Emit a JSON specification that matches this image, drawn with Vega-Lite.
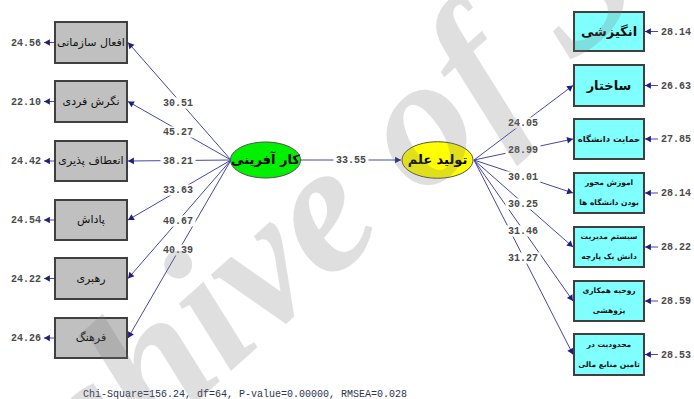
{
  "$schema": "https://vega.github.io/schema/vega-lite/v6.json",
  "width": 694,
  "height": 399,
  "autosize": {"type": "none"},
  "padding": 0,
  "background": "white",
  "config": {"view": {"stroke": null}},
  "datasets": {
    "edges": [
      {"x": 231, "y": 160, "xe": 128, "ye": 42.5},
      {"x": 231, "y": 160, "xe": 128, "ye": 101.5},
      {"x": 231, "y": 160, "xe": 128, "ye": 161},
      {"x": 231, "y": 160, "xe": 128, "ye": 220},
      {"x": 231, "y": 160, "xe": 128, "ye": 278.5},
      {"x": 231, "y": 160, "xe": 128, "ye": 338},
      {"x": 300, "y": 160, "xe": 401, "ye": 160},
      {"x": 474, "y": 160, "xe": 573, "ye": 85.5},
      {"x": 474, "y": 160, "xe": 573, "ye": 139},
      {"x": 474, "y": 160, "xe": 573, "ye": 193},
      {"x": 474, "y": 160, "xe": 573, "ye": 247},
      {"x": 474, "y": 160, "xe": 573, "ye": 301},
      {"x": 474, "y": 160, "xe": 573, "ye": 354.5},
      {"x": 55, "y": 42.5, "xe": 44, "ye": 42.5},
      {"x": 55, "y": 101.5, "xe": 44, "ye": 101.5},
      {"x": 55, "y": 161, "xe": 44, "ye": 161},
      {"x": 55, "y": 220, "xe": 44, "ye": 220},
      {"x": 55, "y": 278.5, "xe": 44, "ye": 278.5},
      {"x": 55, "y": 338, "xe": 44, "ye": 338},
      {"x": 658, "y": 31.5, "xe": 645, "ye": 31.5},
      {"x": 658, "y": 85.5, "xe": 645, "ye": 85.5},
      {"x": 658, "y": 139, "xe": 645, "ye": 139},
      {"x": 658, "y": 193, "xe": 645, "ye": 193},
      {"x": 658, "y": 247, "xe": 645, "ye": 247},
      {"x": 658, "y": 301, "xe": 645, "ye": 301},
      {"x": 658, "y": 354.5, "xe": 645, "ye": 354.5}
    ],
    "loadings": [
      {"v": 30.51, "x": 178, "y": 103},
      {"v": 45.27, "x": 178, "y": 132},
      {"v": 38.21, "x": 178, "y": 161},
      {"v": 33.63, "x": 178, "y": 190},
      {"v": 40.67, "x": 178, "y": 221},
      {"v": 40.39, "x": 178, "y": 250},
      {"v": 33.55, "x": 351, "y": 160},
      {"v": 24.05, "x": 523, "y": 123},
      {"v": 28.99, "x": 523, "y": 150},
      {"v": 30.01, "x": 523, "y": 177},
      {"v": 30.25, "x": 523, "y": 204},
      {"v": 31.46, "x": 523, "y": 231},
      {"v": 31.27, "x": 523, "y": 258}
    ],
    "boxes": [
      {"label": "افعال سازمانی", "side": "L", "x": 55, "xe": 127, "y": 22, "ye": 63},
      {"label": "نگرش فردی", "side": "L", "x": 55, "xe": 127, "y": 81, "ye": 122},
      {"label": "انعطاف پذیری", "side": "L", "x": 55, "xe": 127, "y": 141, "ye": 181},
      {"label": "پاداش", "side": "L", "x": 55, "xe": 127, "y": 200, "ye": 240},
      {"label": "رهبری", "side": "L", "x": 55, "xe": 127, "y": 258, "ye": 299},
      {"label": "فرهنگ", "side": "L", "x": 55, "xe": 127, "y": 318, "ye": 358},
      {"label": "انگیزشی", "side": "R", "x": 574, "xe": 644, "y": 12, "ye": 51},
      {"label": "ساختار", "side": "R", "x": 574, "xe": 644, "y": 65, "ye": 106},
      {"label": "حمایت دانشگاه", "side": "R", "x": 574, "xe": 644, "y": 119, "ye": 159},
      {"label": "اموزش محور|بودن دانشگاه ها", "side": "R", "x": 574, "xe": 644, "y": 173, "ye": 213},
      {"label": "سیستم مدیریت|دانش یک پارچه", "side": "R", "x": 574, "xe": 644, "y": 227, "ye": 267},
      {"label": "روحیه همکاری|پژوهشی", "side": "R", "x": 574, "xe": 644, "y": 281, "ye": 321},
      {"label": "محدودیت در|تامین منابع مالی", "side": "R", "x": 574, "xe": 644, "y": 334, "ye": 375}
    ],
    "latents": [
      {"label": "کار آفرینی", "kind": "exo", "x": 265.5, "y": 160},
      {"label": "تولید علم", "kind": "endo", "x": 437.5, "y": 160}
    ],
    "errors": [
      {"v": 24.56, "side": "L", "x": 41, "y": 42.5},
      {"v": 22.10, "side": "L", "x": 41, "y": 101.5},
      {"v": 24.42, "side": "L", "x": 41, "y": 161},
      {"v": 24.54, "side": "L", "x": 41, "y": 220},
      {"v": 24.22, "side": "L", "x": 41, "y": 278.5},
      {"v": 24.26, "side": "L", "x": 41, "y": 338},
      {"v": 28.14, "side": "R", "x": 661, "y": 31.5},
      {"v": 26.63, "side": "R", "x": 661, "y": 85.5},
      {"v": 27.85, "side": "R", "x": 661, "y": 139},
      {"v": 28.14, "side": "R", "x": 661, "y": 193},
      {"v": 28.22, "side": "R", "x": 661, "y": 247},
      {"v": 28.59, "side": "R", "x": 661, "y": 301},
      {"v": 28.53, "side": "R", "x": 661, "y": 354.5}
    ],
    "notes": [
      {"t": "Chi-Square=156.24, df=64, P-value=0.00000, RMSEA=0.028", "x": 83, "y": 394}
    ],
    "mark": [
      {"t": "Archive of SID", "x": 335, "y": 202}
    ]
  },
  "layer": [
    {
      "data": {"name": "edges"},
      "mark": {"type": "rule", "color": "#4646a8", "strokeWidth": 1},
      "encoding": {
        "x": {"field": "x", "type": "quantitative", "scale": {"domain": [0, 694], "nice": false, "zero": false}, "axis": null},
        "y": {"field": "y", "type": "quantitative", "scale": {"domain": [0, 399], "nice": false, "zero": false, "reverse": true}, "axis": null},
        "x2": {"field": "xe"},
        "y2": {"field": "ye"}
      }
    },
    {
      "data": {"name": "edges"},
      "transform": [
        {"calculate": "atan2(datum.ye - datum.y, datum.xe - datum.x)", "as": "rad"},
        {"calculate": "datum.rad * 180 / PI", "as": "ang"},
        {"calculate": "datum.xe - 3 * cos(datum.rad)", "as": "ax"},
        {"calculate": "datum.ye - 3 * sin(datum.rad)", "as": "ay"}
      ],
      "mark": {"type": "point", "shape": "triangle-right", "filled": true, "size": 45, "color": "#1f1f80", "opacity": 1},
      "encoding": {
        "x": {"field": "ax", "type": "quantitative", "scale": {"domain": [0, 694], "nice": false, "zero": false}, "axis": null},
        "y": {"field": "ay", "type": "quantitative", "scale": {"domain": [0, 399], "nice": false, "zero": false, "reverse": true}, "axis": null},
        "angle": {"field": "ang", "type": "quantitative", "scale": null}
      }
    },
    {
      "data": {"name": "boxes"},
      "transform": [{"filter": "datum.side == 'L'"}],
      "mark": {"type": "rect", "fill": "#c0c0c0", "stroke": "#3f3f3f", "strokeWidth": 2},
      "encoding": {
        "x": {"field": "x", "type": "quantitative", "scale": {"domain": [0, 694], "nice": false, "zero": false}, "axis": null},
        "y": {"field": "y", "type": "quantitative", "scale": {"domain": [0, 399], "nice": false, "zero": false, "reverse": true}, "axis": null},
        "x2": {"field": "xe"},
        "y2": {"field": "ye"}
      }
    },
    {
      "data": {"name": "boxes"},
      "transform": [{"filter": "datum.side == 'R'"}],
      "mark": {"type": "rect", "fill": "#80ffff", "stroke": "#3f3f3f", "strokeWidth": 2},
      "encoding": {
        "x": {"field": "x", "type": "quantitative", "scale": {"domain": [0, 694], "nice": false, "zero": false}, "axis": null},
        "y": {"field": "y", "type": "quantitative", "scale": {"domain": [0, 399], "nice": false, "zero": false, "reverse": true}, "axis": null},
        "x2": {"field": "xe"},
        "y2": {"field": "ye"}
      }
    },
    {
      "data": {"name": "latents"},
      "transform": [{"filter": "datum.kind == 'exo'"}],
      "mark": {"type": "point", "shape": "M-1,0A1,0.514,0,1,0,1,0A1,0.514,0,1,0,-1,0Z", "filled": true, "size": 4900, "fill": "#00f000", "stroke": "#505050", "strokeWidth": 1, "opacity": 1},
      "encoding": {
        "x": {"field": "x", "type": "quantitative", "scale": {"domain": [0, 694], "nice": false, "zero": false}, "axis": null},
        "y": {"field": "y", "type": "quantitative", "scale": {"domain": [0, 399], "nice": false, "zero": false, "reverse": true}, "axis": null}
      }
    },
    {
      "data": {"name": "latents"},
      "transform": [{"filter": "datum.kind == 'endo'"}],
      "mark": {"type": "point", "shape": "M-1,0A1,0.514,0,1,0,1,0A1,0.514,0,1,0,-1,0Z", "filled": true, "size": 5041, "fill": "#ffff00", "stroke": "#505050", "strokeWidth": 1, "opacity": 1},
      "encoding": {
        "x": {"field": "x", "type": "quantitative", "scale": {"domain": [0, 694], "nice": false, "zero": false}, "axis": null},
        "y": {"field": "y", "type": "quantitative", "scale": {"domain": [0, 399], "nice": false, "zero": false, "reverse": true}, "axis": null}
      }
    },
    {
      "data": {"name": "loadings"},
      "mark": {"type": "point", "shape": "M-1,-0.32H1V0.32H-1Z", "filled": true, "size": 1225, "fill": "white", "strokeWidth": 0, "opacity": 1},
      "encoding": {
        "x": {"field": "x", "type": "quantitative", "scale": {"domain": [0, 694], "nice": false, "zero": false}, "axis": null},
        "y": {"field": "y", "type": "quantitative", "scale": {"domain": [0, 399], "nice": false, "zero": false, "reverse": true}, "axis": null}
      }
    },
    {
      "data": {"name": "loadings"},
      "mark": {"type": "text", "font": "Liberation Mono", "fontSize": 10, "fontWeight": "bold", "color": "#4a4a4a", "align": "center", "baseline": "middle"},
      "encoding": {
        "x": {"field": "x", "type": "quantitative", "scale": {"domain": [0, 694], "nice": false, "zero": false}, "axis": null},
        "y": {"field": "y", "type": "quantitative", "scale": {"domain": [0, 399], "nice": false, "zero": false, "reverse": true}, "axis": null},
        "text": {"field": "v", "type": "quantitative", "format": ".2f"}
      }
    },
    {
      "data": {"name": "errors"},
      "transform": [{"filter": "datum.side == 'L'"}],
      "mark": {"type": "text", "font": "Liberation Mono", "fontSize": 10, "fontWeight": "bold", "color": "#4a4a4a", "align": "right", "baseline": "middle"},
      "encoding": {
        "x": {"field": "x", "type": "quantitative", "scale": {"domain": [0, 694], "nice": false, "zero": false}, "axis": null},
        "y": {"field": "y", "type": "quantitative", "scale": {"domain": [0, 399], "nice": false, "zero": false, "reverse": true}, "axis": null},
        "text": {"field": "v", "type": "quantitative", "format": ".2f"}
      }
    },
    {
      "data": {"name": "errors"},
      "transform": [{"filter": "datum.side == 'R'"}],
      "mark": {"type": "text", "font": "Liberation Mono", "fontSize": 10, "fontWeight": "bold", "color": "#4a4a4a", "align": "left", "baseline": "middle"},
      "encoding": {
        "x": {"field": "x", "type": "quantitative", "scale": {"domain": [0, 694], "nice": false, "zero": false}, "axis": null},
        "y": {"field": "y", "type": "quantitative", "scale": {"domain": [0, 399], "nice": false, "zero": false, "reverse": true}, "axis": null},
        "text": {"field": "v", "type": "quantitative", "format": ".2f"}
      }
    },
    {
      "data": {"name": "boxes"},
      "transform": [{"filter": "datum.side == 'L'"}, {"calculate": "(datum.x + datum.xe) / 2", "as": "cx"}, {"calculate": "(datum.y + datum.ye) / 2", "as": "cy"}],
      "mark": {"type": "text", "font": "DejaVu Sans", "fontSize": 11, "color": "#111111", "align": "center", "baseline": "middle"},
      "encoding": {
        "x": {"field": "cx", "type": "quantitative", "scale": {"domain": [0, 694], "nice": false, "zero": false}, "axis": null},
        "y": {"field": "cy", "type": "quantitative", "scale": {"domain": [0, 399], "nice": false, "zero": false, "reverse": true}, "axis": null},
        "text": {"field": "label", "type": "nominal"}
      }
    },
    {
      "data": {"name": "boxes"},
      "transform": [{"filter": "datum.side == 'R' && indexof(datum.label, '|') < 0 && length(datum.label) <= 7"}, {"calculate": "(datum.x + datum.xe) / 2", "as": "cx"}, {"calculate": "(datum.y + datum.ye) / 2", "as": "cy"}],
      "mark": {"type": "text", "font": "DejaVu Sans", "fontSize": 13, "fontWeight": "bold", "color": "#111111", "align": "center", "baseline": "middle"},
      "encoding": {
        "x": {"field": "cx", "type": "quantitative", "scale": {"domain": [0, 694], "nice": false, "zero": false}, "axis": null},
        "y": {"field": "cy", "type": "quantitative", "scale": {"domain": [0, 399], "nice": false, "zero": false, "reverse": true}, "axis": null},
        "text": {"field": "label", "type": "nominal"}
      }
    },
    {
      "data": {"name": "boxes"},
      "transform": [{"filter": "datum.side == 'R' && indexof(datum.label, '|') < 0 && length(datum.label) > 7"}, {"calculate": "(datum.x + datum.xe) / 2", "as": "cx"}, {"calculate": "(datum.y + datum.ye) / 2", "as": "cy"}],
      "mark": {"type": "text", "font": "DejaVu Sans", "fontSize": 8.5, "fontWeight": "bold", "color": "#111111", "align": "center", "baseline": "middle"},
      "encoding": {
        "x": {"field": "cx", "type": "quantitative", "scale": {"domain": [0, 694], "nice": false, "zero": false}, "axis": null},
        "y": {"field": "cy", "type": "quantitative", "scale": {"domain": [0, 399], "nice": false, "zero": false, "reverse": true}, "axis": null},
        "text": {"field": "label", "type": "nominal"}
      }
    },
    {
      "data": {"name": "boxes"},
      "transform": [{"filter": "datum.side == 'R' && indexof(datum.label, '|') >= 0"}, {"calculate": "(datum.x + datum.xe) / 2", "as": "cx"}, {"calculate": "(datum.y + datum.ye) / 2", "as": "cy"}, {"calculate": "split(datum.label, '|')", "as": "lines"}],
      "mark": {"type": "text", "font": "DejaVu Sans", "fontSize": 7.5, "fontWeight": "bold", "color": "#111111", "align": "center", "baseline": "middle", "lineHeight": 20, "dy": -10},
      "encoding": {
        "x": {"field": "cx", "type": "quantitative", "scale": {"domain": [0, 694], "nice": false, "zero": false}, "axis": null},
        "y": {"field": "cy", "type": "quantitative", "scale": {"domain": [0, 399], "nice": false, "zero": false, "reverse": true}, "axis": null},
        "text": {"field": "lines", "type": "nominal"}
      }
    },
    {
      "data": {"name": "latents"},
      "mark": {"type": "text", "font": "DejaVu Sans", "fontSize": 13, "fontWeight": "bold", "color": "#000000", "align": "center", "baseline": "middle"},
      "encoding": {
        "x": {"field": "x", "type": "quantitative", "scale": {"domain": [0, 694], "nice": false, "zero": false}, "axis": null},
        "y": {"field": "y", "type": "quantitative", "scale": {"domain": [0, 399], "nice": false, "zero": false, "reverse": true}, "axis": null},
        "text": {"field": "label", "type": "nominal"}
      }
    },
    {
      "data": {"name": "notes"},
      "mark": {"type": "text", "font": "Liberation Mono", "fontSize": 10, "color": "#2c3450", "align": "left", "baseline": "middle"},
      "encoding": {
        "x": {"field": "x", "type": "quantitative", "scale": {"domain": [0, 694], "nice": false, "zero": false}, "axis": null},
        "y": {"field": "y", "type": "quantitative", "scale": {"domain": [0, 399], "nice": false, "zero": false, "reverse": true}, "axis": null},
        "text": {"field": "t", "type": "nominal"}
      }
    },
    {
      "data": {"name": "mark"},
      "mark": {"type": "text", "font": "Liberation Serif", "fontSize": 185, "fontWeight": "bold", "fontStyle": "italic", "color": "#7a7a7a", "opacity": 0.23, "align": "center", "baseline": "middle", "angle": -42},
      "encoding": {
        "x": {"field": "x", "type": "quantitative", "scale": {"domain": [0, 694], "nice": false, "zero": false}, "axis": null},
        "y": {"field": "y", "type": "quantitative", "scale": {"domain": [0, 399], "nice": false, "zero": false, "reverse": true}, "axis": null},
        "text": {"field": "t", "type": "nominal"}
      }
    }
  ]
}
